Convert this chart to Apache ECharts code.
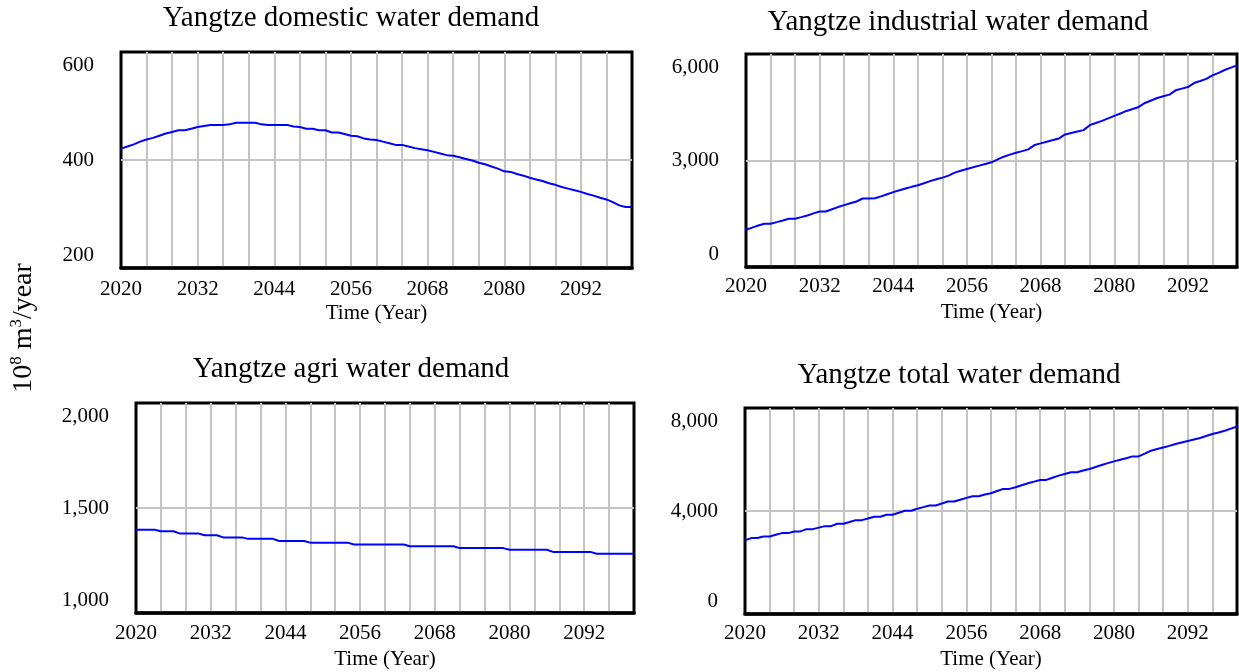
<!DOCTYPE html>
<html>
<head>
<meta charset="utf-8">
<script src="https://cdn.jsdelivr.net/npm/echarts@6/dist/echarts.min.js"></script>
<style>
  html, body { margin: 0; padding: 0; background: #ffffff; }
  #chart { width: 1239px; height: 672px; }
</style>
</head>
<body>
<div id="chart"></div>
<script>
// Simulation horizon (one value per year)
const FIRST_YEAR = 2020;
const LAST_YEAR = 2100;
const years = [];
for (let y = FIRST_YEAR; y <= LAST_YEAR; y++) years.push(y);

// Yangtze domestic water demand, 10^8 m3/year
const domestic = [
  421, 425, 429, 434, 438, 441, 445, 449, 452, 455,
  455, 458, 461, 463, 465, 465, 465, 466, 469, 469,
  469, 469, 466, 465, 465, 465, 465, 462, 461, 458,
  458, 455, 455, 451, 451, 448, 445, 444, 440, 438,
  437, 434, 431, 428, 428, 425, 422, 420, 418, 415,
  412, 409, 408, 405, 402, 399, 395, 392, 388, 384,
  379, 378, 374, 371, 367, 364, 361, 357, 354, 350,
  347, 344, 341, 337, 334, 330, 327, 322, 316, 313,
  313
];

// Yangtze industrial water demand
const industrial = [
  1051, 1110, 1170, 1219, 1219, 1265, 1312, 1360, 1360, 1405,
  1452, 1510, 1564, 1564, 1625, 1688, 1744, 1795, 1845, 1929,
  1929, 1935, 1990, 2050, 2108, 2160, 2210, 2258, 2304, 2361,
  2420, 2470, 2518, 2574, 2658, 2712, 2762, 2808, 2855, 2902,
  2949, 3030, 3107, 3165, 3219, 3265, 3314, 3435, 3482, 3530,
  3575, 3622, 3735, 3775, 3815, 3855, 3995, 4055, 4116, 4185,
  4256, 4325, 4396, 4450, 4509, 4621, 4690, 4761, 4810, 4856,
  4977, 5025, 5069, 5182, 5240, 5300, 5397, 5470, 5550, 5615,
  5678
];

// Yangtze agricultural water demand
const agri = [
  1396, 1396, 1396, 1396, 1389, 1389, 1389, 1379, 1379, 1379,
  1379, 1370, 1370, 1370, 1360, 1360, 1360, 1360, 1353, 1353,
  1353, 1353, 1353, 1343, 1343, 1343, 1343, 1343, 1335, 1335,
  1335, 1335, 1335, 1335, 1335, 1326, 1326, 1326, 1326, 1326,
  1326, 1326, 1326, 1326, 1318, 1318, 1318, 1318, 1318, 1318,
  1318, 1318, 1309, 1309, 1309, 1309, 1309, 1309, 1309, 1309,
  1301, 1301, 1301, 1301, 1301, 1301, 1301, 1291, 1291, 1291,
  1291, 1291, 1291, 1291, 1282, 1282, 1282, 1282, 1282, 1282,
  1282
];

// Yangtze total water demand
const total = [
  2858, 2948, 2948, 3013, 3013, 3080, 3141, 3141, 3207, 3207,
  3296, 3296, 3355, 3412, 3412, 3504, 3504, 3570, 3645, 3645,
  3710, 3775, 3775, 3853, 3853, 3930, 4008, 4008, 4090, 4150,
  4213, 4213, 4290, 4368, 4368, 4440, 4510, 4573, 4573, 4639,
  4689, 4775, 4859, 4859, 4921, 5000, 5076, 5140, 5207, 5207,
  5290, 5374, 5440, 5502, 5502, 5570, 5633, 5710, 5788, 5860,
  5927, 5990, 6050, 6121, 6121, 6230, 6341, 6405, 6469, 6530,
  6600, 6663, 6720, 6777, 6833, 6910, 6988, 7050, 7115, 7200,
  7282
];

const titles = [
  'Yangtze domestic water demand',
  'Yangtze industrial water demand',
  'Yangtze agri water demand',
  'Yangtze total water demand'
];
const seriesValues = [domestic, industrial, agri, total];
const yRanges = [
  { min: 200, max: 600, interval: 200 },
  { min: 0, max: 6000, interval: 3000 },
  { min: 1000, max: 2000, interval: 500 },
  { min: 0, max: 8000, interval: 4000 }
];
const X_LABEL_STEP = 12;
const xAxisName = 'Time (Year)';

// Panel geometry
const panels = [
  { left: 121, top: 52,  width: 511, height: 216, titleX: 351, titleY: 18.5, xMargin: 11, nameGap: 35 },
  { left: 746, top: 54,  width: 491, height: 213, titleX: 958, titleY: 22,   xMargin: 9,  nameGap: 35 },
  { left: 136, top: 403, width: 498, height: 210, titleX: 351, titleY: 369.5, xMargin: 10, nameGap: 36 },
  { left: 745, top: 408, width: 492, height: 206, titleX: 959, titleY: 375,  xMargin: 9,  nameGap: 35 }
];

const FONT = '"Liberation Serif", "Times New Roman", "DejaVu Serif", serif';
const TEXT = '#000000';
const GRID_GRAY = '#c4c4c4';
const LINE_BLUE = '#0000ff';

function fmt(v) {
  return Math.round(v).toLocaleString('en-US');
}

const labelRich = {
  t: { fontFamily: FONT, fontSize: 21, color: TEXT, padding: [26, 0, 0, 0] },
  m: { fontFamily: FONT, fontSize: 21, color: TEXT },
  b: { fontFamily: FONT, fontSize: 21, color: TEXT, padding: [0, 0, 26, 0] }
};

const grids = [], xAxes = [], yAxes = [], series = [], graphics = [];

panels.forEach((p, i) => {
  const yr = yRanges[i];
  grids.push({
    left: p.left, top: p.top, width: p.width, height: p.height,
    show: true, borderColor: '#000000', borderWidth: 3, backgroundColor: 'transparent',
    containLabel: false, outerBoundsMode: 'none'
  });
  xAxes.push({
    type: 'value', gridIndex: i,
    min: FIRST_YEAR, max: LAST_YEAR, interval: 4,
    name: xAxisName, nameLocation: 'middle', nameGap: p.nameGap,
    nameTextStyle: { fontFamily: FONT, fontSize: 21, color: TEXT },
    axisLine: { show: true, onZero: false, lineStyle: { color: '#000000', width: 3.5 } },
    axisTick: { show: false },
    axisLabel: {
      margin: p.xMargin, fontFamily: FONT, fontSize: 21, color: TEXT,
      showMinLabel: true, showMaxLabel: true, hideOverlap: false,
      formatter: v => ((v - FIRST_YEAR) % X_LABEL_STEP === 0 ? String(v) : '')
    },
    splitLine: { show: true, showMinLine: false, showMaxLine: false, lineStyle: { color: GRID_GRAY, width: 2 } }
  });
  yAxes.push({
    type: 'value', gridIndex: i,
    min: yr.min, max: yr.max, interval: yr.interval,
    axisLine: { show: false },
    axisTick: { show: false },
    axisLabel: {
      margin: 27, fontFamily: FONT, fontSize: 21, color: TEXT,
      formatter: v => {
        const s = fmt(v);
        if (v === yr.max) return '{t|' + s + '}';
        if (v === yr.min) return '{b|' + s + '}';
        return '{m|' + s + '}';
      },
      rich: labelRich
    },
    splitLine: { show: true, showMinLine: false, showMaxLine: false, lineStyle: { color: GRID_GRAY, width: 2 } }
  });
  series.push({
    type: 'line', xAxisIndex: i, yAxisIndex: i,
    data: years.map((y, k) => [y, seriesValues[i][k]]),
    showSymbol: false, symbol: 'none', smooth: false,
    lineStyle: { color: LINE_BLUE, width: 2 },
    emphasis: { disabled: true },
    z: 5
  });
  graphics.push({
    type: 'text', x: p.titleX, y: p.titleY, silent: true,
    style: {
      text: titles[i], fontFamily: FONT, fontSize: 29, fill: TEXT,
      align: 'center', verticalAlign: 'middle'
    }
  });
});

// Shared vertical unit label
graphics.push({
  type: 'text', x: 24, y: 328, rotation: Math.PI / 2, silent: true,
  style: {
    text: '{n|10}{s|8}{n| m}{s|3}{n|/year}',
    align: 'center', verticalAlign: 'middle',
    rich: {
      n: { fontFamily: FONT, fontSize: 28, fill: TEXT, lineHeight: 32 },
      s: { fontFamily: FONT, fontSize: 17, fill: TEXT, verticalAlign: 'top' }
    }
  }
});

const chart = echarts.init(document.getElementById('chart'), null, { renderer: 'canvas' });
chart.setOption({
  animation: false,
  backgroundColor: '#ffffff',
  grid: grids,
  xAxis: xAxes,
  yAxis: yAxes,
  series: series,
  graphic: graphics
});
</script>
</body>
</html>
